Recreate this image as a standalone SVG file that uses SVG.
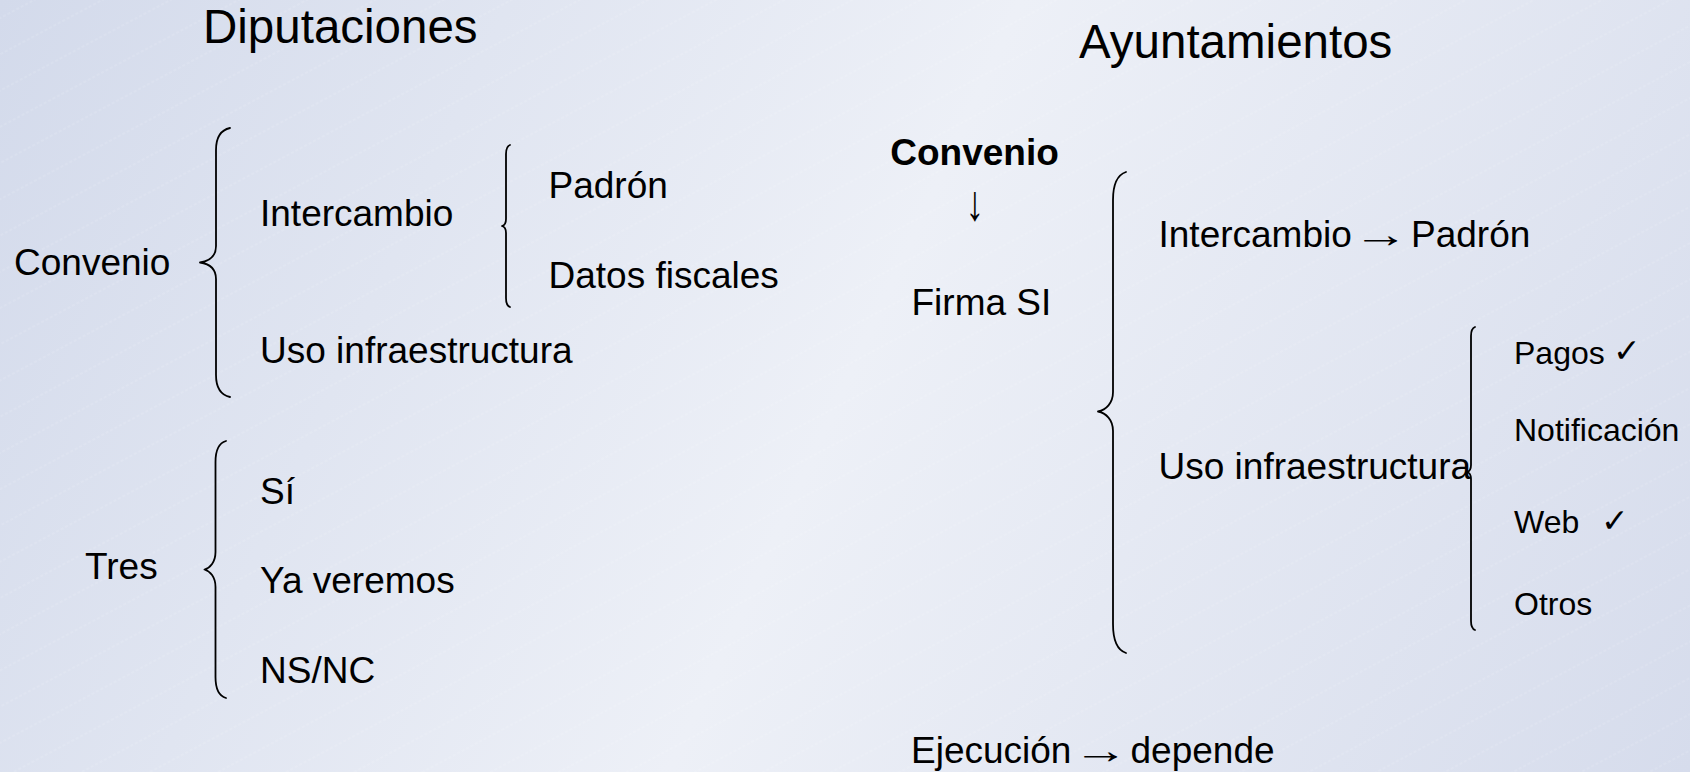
<svg xmlns="http://www.w3.org/2000/svg" width="1690" height="772" viewBox="0 0 1690 772">
  <defs>
    <linearGradient id="bg" gradientUnits="userSpaceOnUse" x1="0" y1="0" x2="1690" y2="772">
      <stop offset="0" stop-color="#d3daeb"/>
      <stop offset="0.5" stop-color="#edf0f7"/>
      <stop offset="1" stop-color="#d6dcec"/>
    </linearGradient>
    <pattern id="hatch" patternUnits="userSpaceOnUse" width="60" height="32" patternTransform="rotate(-28)">
      <line x1="0" y1="16" x2="60" y2="16" stroke="#ffffff" stroke-opacity="0.25" stroke-width="0.8" stroke-dasharray="3 2"/>
    </pattern>
  </defs>
  <style>
    .t { font-family: "Liberation Sans", Arial, sans-serif; font-size: 37px; fill: #000; }
    .title { font-family: "Liberation Sans", Arial, sans-serif; font-size: 47.5px; fill: #000; }
    .s { font-family: "Liberation Sans", Arial, sans-serif; font-size: 32px; fill: #000; }
    .chk { font-family: "DejaVu Sans", sans-serif; font-size: 33px; fill: #000; }
    .b { font-weight: bold; }
    .brace { fill: none; stroke: #000; stroke-width: 1.8; stroke-linecap: round; stroke-linejoin: round; }
  </style>

  <rect x="0" y="0" width="1690" height="772" fill="url(#bg)"/>
  <rect x="0" y="0" width="1690" height="772" fill="url(#hatch)"/>

  <g id="titles">
    <text id="title-diputaciones" class="title" x="203" y="43">Diputaciones</text>
    <text id="title-ayuntamientos" class="title" x="1079" y="58">Ayuntamientos</text>
  </g>

  <g id="connectors">
    <path id="brace-convenio" class="brace" d="M230,128 C221,130 216,137 216,150 L216,246 C216,256 210,261 200,262.5 C210,264 216,269 216,279 L216,375 C216,388 221,395 230,397"/>
    <path id="brace-intercambio" class="brace" d="M510,145 C507,146 506,149 506,154 L506,219 C506,223 504,225.5 502,226 C504,226.5 506,229 506,233 L506,298 C506,303 507,306 510,307"/>
    <path id="brace-tres" class="brace" d="M226,441 C219,443 215.5,450 215.5,462 L215.5,552 C215.5,562 210,568 204.5,569.5 C210,571 215.5,577 215.5,587 L215.5,677 C215.5,689 219,696 226,698"/>
    <path id="brace-ayto" class="brace" d="M1126,172 C1117,175 1113,185 1113,200 L1113,392 C1113,403 1106,410 1098,411.5 C1106,413 1113,420 1113,431 L1113,624 C1113,640 1117,650 1126,653"/>
    <path id="brace-uso" class="brace" d="M1475,327 C1472.5,328 1471,331 1471,336 L1471,465 C1471,469 1469,471.5 1467,472 C1469,472.5 1471,475 1471,479 L1471,621 C1471,626 1472.5,629 1475,630"/>
  </g>

  <g id="node-convenio-left"><text class="t" x="14" y="275">Convenio</text></g>
  <g id="node-intercambio-left"><text class="t" x="260" y="226">Intercambio</text></g>
  <g id="node-padron-left"><text class="t" x="548.5" y="198">Padrón</text></g>
  <g id="node-datos-fiscales"><text class="t" x="548.5" y="288">Datos fiscales</text></g>
  <g id="node-uso-left"><text class="t" x="260" y="363">Uso infraestructura</text></g>

  <g id="node-tres"><text class="t" x="85" y="579">Tres</text></g>
  <g id="node-si"><text class="t" x="260" y="504">Sí</text></g>
  <g id="node-ya-veremos"><text class="t" x="260" y="593">Ya veremos</text></g>
  <g id="node-nsnc"><text class="t" x="260" y="683">NS/NC</text></g>

  <g id="node-convenio-right">
    <text class="t b" x="974.5" y="165" text-anchor="middle">Convenio</text>
    <text class="t" x="0" y="0" text-anchor="middle" transform="translate(975,220) scale(1,1.35)">↓</text>
  </g>
  <g id="node-firma"><text class="t" x="911.5" y="315">Firma SI</text></g>
  <g id="node-intercambio-right">
    <text class="t" x="1158.5" y="247">Intercambio</text>
    <text class="t" x="0" y="0" text-anchor="middle" transform="translate(1381,247) scale(1.5,1)">→</text>
    <text class="t" x="1411" y="247">Padrón</text>
  </g>
  <g id="node-uso-right"><text class="t" x="1158.5" y="479">Uso infraestructura</text></g>

  <g id="node-pagos">
    <text class="s" x="1514" y="364">Pagos</text>
    <text class="chk" x="1613" y="362">✓</text>
  </g>
  <g id="node-notificacion"><text class="s" x="1514" y="441">Notificación</text></g>
  <g id="node-web">
    <text class="s" x="1514" y="533">Web</text>
    <text class="chk" x="1601" y="532">✓</text>
  </g>
  <g id="node-otros"><text class="s" x="1514" y="615">Otros</text></g>

  <g id="node-ejecucion">
    <text class="t" x="911" y="763">Ejecución</text>
    <text class="t" x="0" y="0" text-anchor="middle" transform="translate(1101,763) scale(1.5,1)">→</text>
    <text class="t" x="1130.5" y="763">depende</text>
  </g>
</svg>
